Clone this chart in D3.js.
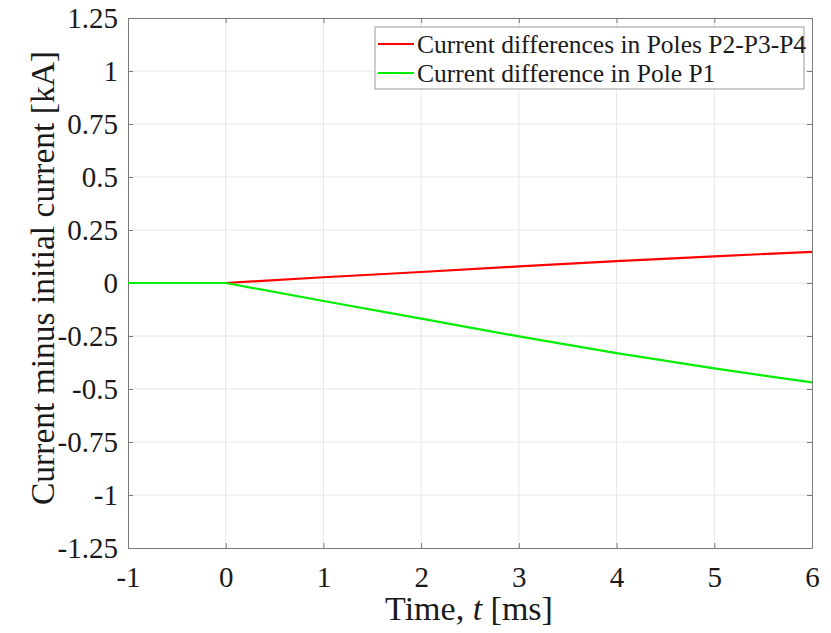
<!DOCTYPE html>
<html>
<head>
<meta charset="utf-8">
<script src="https://cdn.jsdelivr.net/npm/d3@7/dist/d3.min.js"></script>
<style>
  body { margin: 0; background: #fff; }
  svg text { font-family: "Liberation Serif", "Times New Roman", serif !important; fill: #1a1a1a; }
  .tick text { font-size: 29px; }
</style>
</head>
<body>
<svg id="chart" width="831" height="633"></svg>
<script>
// Time axis samples [ms]
const timeMs = [-1, 0, 1, 2, 3, 4, 5, 6];
// Current differences [kA]
const poleP234 = [0, 0, 0.027, 0.052, 0.078, 0.103, 0.126, 0.147];
const poleP1   = [0, 0, -0.085, -0.168, -0.252, -0.331, -0.403, -0.469];
const seriesNames = ["Current differences in Poles P2-P3-P4", "Current difference in Pole P1"];
const seriesColors = ["#ff0000", "#00ee00"];
const xTicks = [-1, 0, 1, 2, 3, 4, 5, 6];
const yTicks = [-1.25, -1, -0.75, -0.5, -0.25, 0, 0.25, 0.5, 0.75, 1, 1.25];

const svg = d3.select("#chart");
const plotL = 128, plotR = 812, plotT = 18, plotB = 548;

const x = d3.scaleLinear().domain([-1, 6]).range([plotL, plotR]);
const y = d3.scaleLinear().domain([-1.25, 1.25]).range([plotB, plotT]);

const fmt = d => (d === 0 ? "0" : String(d));

// grid
const grid = svg.append("g").attr("stroke", "#e6e6e6").attr("stroke-width", 1);
xTicks.slice(1, -1).forEach(t => grid.append("line")
  .attr("x1", x(t)).attr("x2", x(t)).attr("y1", plotT).attr("y2", plotB));
yTicks.slice(1, -1).forEach(t => grid.append("line")
  .attr("x1", plotL).attr("x2", plotR).attr("y1", y(t)).attr("y2", y(t)));

// axes with inward ticks on all four sides
const axisColor = "#7a7a7a";
function styleAxis(g) {
  g.attr("font-family", null).attr("font-size", null);
  g.select(".domain").attr("stroke", axisColor);
  g.selectAll(".tick line").attr("stroke", axisColor);
  g.selectAll("text").style("font-size", "29px").attr("fill", "#1a1a1a");
}
svg.append("g").attr("transform", `translate(0,${plotB})`)
  .call(d3.axisBottom(x).tickValues(xTicks).tickSizeInner(-5).tickSizeOuter(0).tickPadding(18).tickFormat(fmt))
  .call(styleAxis);
svg.append("g").attr("transform", `translate(0,${plotT})`)
  .call(d3.axisTop(x).tickValues(xTicks).tickSizeInner(-5).tickSizeOuter(0).tickFormat(""))
  .call(styleAxis);
svg.append("g").attr("transform", `translate(${plotL},0)`)
  .call(d3.axisLeft(y).tickValues(yTicks).tickSizeInner(-5).tickSizeOuter(0).tickPadding(10).tickFormat(fmt))
  .call(styleAxis);
svg.append("g").attr("transform", `translate(${plotR},0)`)
  .call(d3.axisRight(y).tickValues(yTicks).tickSizeInner(-5).tickSizeOuter(0).tickFormat(""))
  .call(styleAxis);

// series
const line = d3.line().x((d, i) => x(timeMs[i])).y(d => y(d));
[poleP234, poleP1].forEach((s, k) => {
  svg.append("path").datum(s)
    .attr("fill", "none").attr("stroke", seriesColors[k]).attr("stroke-width", 2.2)
    .attr("d", line);
});

// axis titles
svg.append("text").attr("x", 469).attr("y", 620)
  .attr("text-anchor", "middle").style("font-size", "34px")
  .html('Time, <tspan font-style="italic">t</tspan> [ms]');
svg.append("text").attr("transform", `translate(54,278) rotate(-90)`)
  .attr("text-anchor", "middle").style("font-size", "33.5px")
  .text("Current minus initial current [kA]");

// legend
const lg = svg.append("g");
lg.append("rect").attr("x", 375).attr("y", 27).attr("width", 429).attr("height", 62)
  .attr("fill", "#fff").attr("stroke", "#9a9a9a").attr("stroke-width", 1);
seriesNames.forEach((name, k) => {
  const ly = 44 + k * 29;
  lg.append("line").attr("x1", 378).attr("x2", 414).attr("y1", ly).attr("y2", ly)
    .attr("stroke", seriesColors[k]).attr("stroke-width", 2.2);
  lg.append("text").attr("x", 417).attr("y", ly + 9).style("font-size", "25.5px").text(name);
});
</script>
</body>
</html>
